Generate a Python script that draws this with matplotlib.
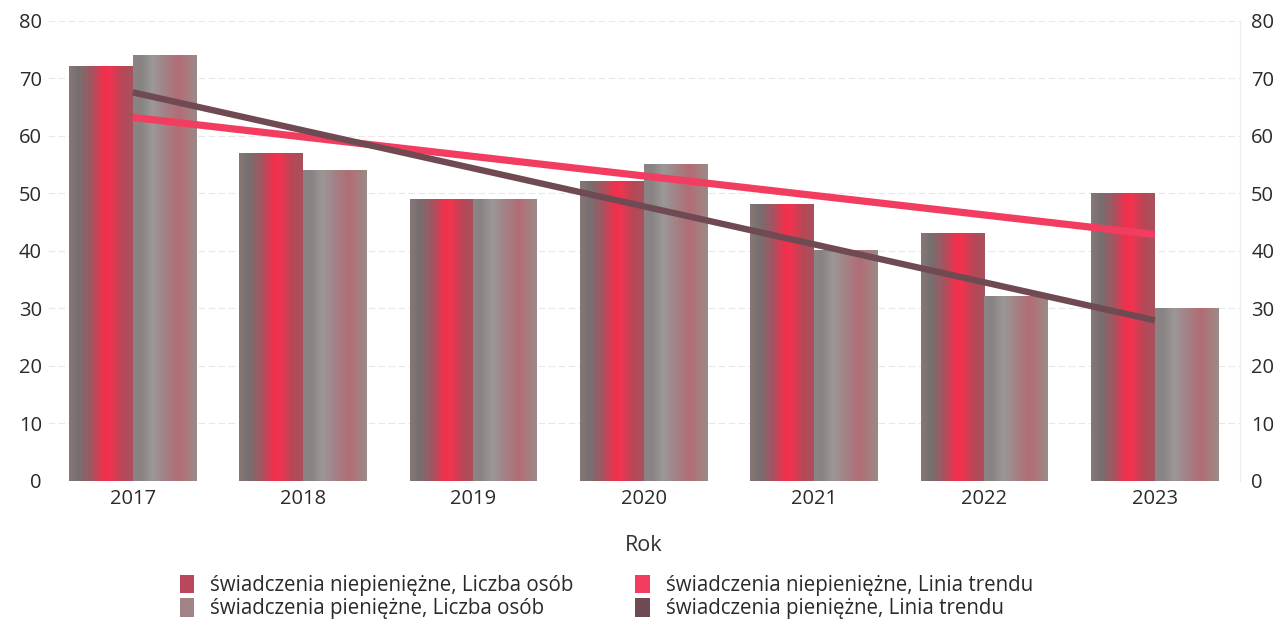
import numpy as np
import matplotlib
matplotlib.use("Agg")
import matplotlib.pyplot as plt
from matplotlib.colors import LinearSegmentedColormap
from matplotlib.patches import Patch

plt.rcParams['font.family'] = ['Open Sans', 'DejaVu Sans']

# dane
lata = ['2017', '2018', '2019', '2020', '2021', '2022', '2023']
niepieniezne = [72, 57, 49, 52, 48, 43, 50]
pieniezne = [74, 54, 49, 55, 40, 32, 30]

etykieta_niep = 'świadczenia niepieniężne, Liczba osób'
etykieta_pien = 'świadczenia pieniężne, Liczba osób'
etykieta_trend_niep = 'świadczenia niepieniężne, Linia trendu'
etykieta_trend_pien = 'świadczenia pieniężne, Linia trendu'

# gradienty slupkow
cmap_niep = LinearSegmentedColormap.from_list('niep', [
    (0.0, '#8a7676'), (0.15, '#757070'), (0.35, '#a45561'),
    (0.55, '#f2304c'), (0.65, '#ee3550'), (0.82, '#b84656'), (1.0, '#a8525e')])
cmap_pien = LinearSegmentedColormap.from_list('pien', [
    (0.0, '#8e8484'), (0.12, '#878383'), (0.3, '#9c9898'),
    (0.5, '#a38286'), (0.72, '#b26c75'), (0.9, '#a58080'), (1.0, '#9a8a8a')])

fig = plt.figure(figsize=(12.85, 6.26), dpi=100)
ax = fig.add_axes([0.037, 0.232, 0.928, 0.735])

x = np.arange(len(lata))
w = 0.375
bary_niep = ax.bar(x - w / 2, niepieniezne, w, color='none', zorder=2)
bary_pien = ax.bar(x + w / 2, pieniezne, w, color='none', zorder=2)

grad = np.linspace(0, 1, 256).reshape(1, -1)
for bary, cmap in [(bary_niep, cmap_niep), (bary_pien, cmap_pien)]:
    for b in bary:
        x0 = b.get_x()
        x1 = x0 + b.get_width()
        h = b.get_height()
        ax.imshow(grad, cmap=cmap, extent=(x0, x1, 0, h), aspect='auto',
                  interpolation='bicubic', zorder=2)

# linie trendu
a1, b1 = np.polyfit(x, niepieniezne, 1)
a2, b2 = np.polyfit(x, pieniezne, 1)
ax.plot(x, a1 * x + b1, color='#f23d60', lw=5.2, zorder=3, solid_capstyle='butt')
ax.plot(x, a2 * x + b2, color='#704a52', lw=4.6, zorder=3, solid_capstyle='butt')

ax.set_xlim(-0.5, len(lata) - 0.5)
ax.set_ylim(0, 80)
ax.set_yticks(range(0, 81, 10))
ax.set_xticks(x)
ax.set_xticklabels(lata)
ax.grid(axis='y', color='#e8e8e8', lw=0.8, ls=(0, (6, 3)), zorder=0)
ax.tick_params(axis='both', length=0, labelsize=14.5, labelcolor='#2a2a2a')
ax.tick_params(axis='x', pad=6)
ax.tick_params(axis='y', pad=4)
for s in ['top', 'left', 'bottom']:
    ax.spines[s].set_visible(False)
ax.spines['right'].set_color('#ececec')
ax.set_xlabel('Rok', fontsize=15.5, color='#333333', labelpad=19)

ax2 = ax.twinx()
ax2.set_ylim(0, 80)
ax2.set_yticks(range(0, 81, 10))
ax2.tick_params(axis='y', length=0, labelsize=14.5, labelcolor='#2a2a2a', pad=8)
for s in ax2.spines.values():
    s.set_visible(False)

uchwyty = [
    Patch(facecolor='#b8485a', label=etykieta_niep),
    Patch(facecolor='#a08386', label=etykieta_pien),
    Patch(facecolor='#f23d60', label=etykieta_trend_niep),
    Patch(facecolor='#704a52', label=etykieta_trend_pien),
]
fig.legend(handles=uchwyty, loc='center', bbox_to_anchor=(0.472, 0.046),
           ncol=2, frameon=False, fontsize=14.8, handlelength=0.7,
           handleheight=1.0, handletextpad=0.8, columnspacing=3.0,
           labelspacing=0.1, labelcolor='#2a2a2a')

fig.savefig('out.png', dpi=100)
